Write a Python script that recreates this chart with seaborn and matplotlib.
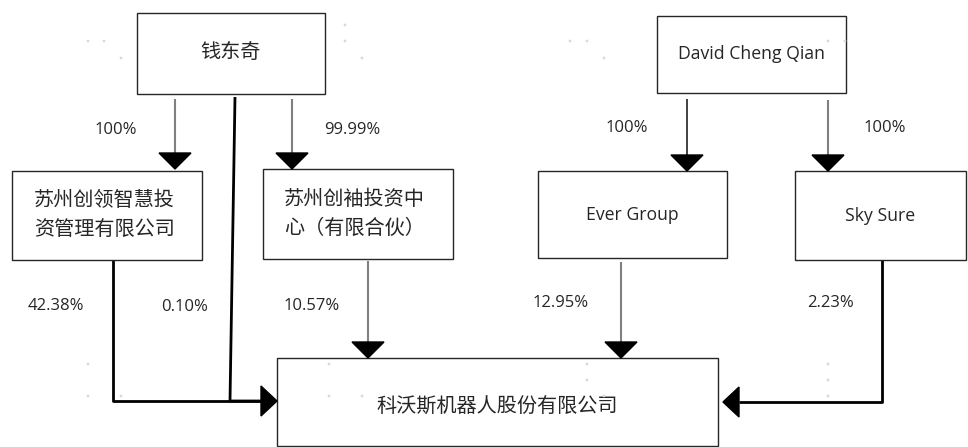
import numpy as np
import pandas as pd
import matplotlib
matplotlib.use("Agg")
import matplotlib.pyplot as plt
import seaborn as sns
from matplotlib.patches import Rectangle, Polygon

# ---- data ----
entities = ["钱东奇", "David Cheng Qian", "苏州创领智慧投\n资管理有限公司", "苏州创袖投资中\n心（有限合伙）",
            "Ever Group", "Sky Sure", "科沃斯机器人股份有限公司"]
owners = ["钱东奇", "钱东奇", "David Cheng Qian", "David Cheng Qian",
          "苏州创领智慧投\n资管理有限公司", "钱东奇", "苏州创袖投资中\n心（有限合伙）", "Ever Group", "Sky Sure"]
owned = ["苏州创领智慧投\n资管理有限公司", "苏州创袖投资中\n心（有限合伙）", "Ever Group", "Sky Sure",
         "科沃斯机器人股份有限公司", "科沃斯机器人股份有限公司", "科沃斯机器人股份有限公司",
         "科沃斯机器人股份有限公司", "科沃斯机器人股份有限公司"]
stakes = ["100%", "99.99%", "100%", "100%", "42.38%", "0.10%", "10.57%", "12.95%", "2.23%"]

# ---- layout (pixel coords, y down) ----
boxes = {  # x0, y0, x1, y1
    entities[0]: (137, 13, 325, 94),
    entities[1]: (657, 16, 846, 93),
    entities[2]: (12, 171, 202, 260),
    entities[3]: (263, 169, 453, 259),
    entities[4]: (538, 171, 727, 258),
    entities[5]: (795, 171, 966, 260),
    entities[6]: (277, 358, 718, 446),
}
left_text = {entities[2]: 34, entities[3]: 284}
text_y = {entities[0]: 53, entities[1]: 54, entities[2]: 215, entities[3]: 214,
          entities[4]: 215, entities[5]: 216, entities[6]: 407}

# connector paths (points), style, arrow direction
paths = [
    ([(175, 99), (175, 153)], "gray", "down", (175, 169)),
    ([(292, 99), (292, 153)], "gray", "down", (292, 169)),
    ([(687, 99), (687, 155)], "dark", "down", (687, 171)),
    ([(828, 100), (828, 155)], "gray", "down", (828, 171)),
    ([(113, 260), (113, 401), (261, 401)], "black", "right", (277, 401)),
    ([(235, 97), (230, 401), (261, 401)], "black", None, None),
    ([(368, 261), (368, 342)], "gray", "down", (368, 358)),
    ([(621, 262), (621, 342)], "gray", "down", (621, 358)),
    ([(882, 260), (882, 402), (739, 402)], "black", "left", (723, 402)),
]
label_pos = [(116, 130), (352, 130), (627, 128), (885, 128),
             (56, 306), (185, 307), (312, 306), (561, 303), (830, 303)]

# faint grid dots left over in the source picture
dots_x = [88, 104, 121, 345, 345, 362, 570, 587, 604, 828, 845,
          88, 88, 121, 329, 329, 362, 587, 587, 604, 828, 828, 828]
dots_y = [41, 41, 58, 25, 41, 58, 41, 41, 58, 41, 41,
          364, 396, 396, 364, 396, 396, 364, 380, 396, 364, 380, 396]

sns.set_theme(style="white")
plt.rcParams['font.family'] = ['Noto Sans CJK SC', 'DejaVu Sans']

fig = plt.figure(figsize=(9.68, 4.47), dpi=100)
ax = fig.add_axes([0, 0, 1, 1])
ax.set_xlim(0, 968)
ax.set_ylim(447, 0)
ax.axis("off")

colors = {"gray": ("#808080", 1.5), "dark": ("#404040", 1.4), "black": ("#000000", 2.0)}
for pts, style, direction, tip in paths:
    c, lw = colors[style]
    xs, ys = zip(*pts)
    ax.plot(xs, ys, color=c, lw=lw, solid_capstyle="butt", zorder=2)
    if direction == "down":
        tx, ty = tip
        ax.add_patch(Polygon([(tx - 16, ty - 16), (tx + 16, ty - 16), (tx, ty)], closed=True,
                             color="black", zorder=3))
    elif direction == "right":
        tx, ty = tip
        ax.add_patch(Polygon([(tx - 16, ty - 15), (tx - 16, ty + 15), (tx, ty)], closed=True,
                             color="black", zorder=3))
    elif direction == "left":
        tx, ty = tip
        ax.add_patch(Polygon([(tx + 16, ty - 15), (tx + 16, ty + 15), (tx, ty)], closed=True,
                             color="black", zorder=3))

for name in entities:
    x0, y0, x1, y1 = boxes[name]
    ax.add_patch(Rectangle((x0, y0), x1 - x0, y1 - y0, facecolor="white",
                           edgecolor="#262626", lw=1.0, zorder=2))
    if name in left_text:
        ax.text(left_text[name], text_y[name], name, ha="left", va="center",
                fontsize=14.5, linespacing=1.45, color="#262626", zorder=4)
    elif name.isascii():
        ax.text((x0 + x1) / 2, text_y[name], name, ha="center", va="center",
                fontsize=12.7, color="#262626", family=["Open Sans", "DejaVu Sans"], zorder=4)
    else:
        ax.text((x0 + x1) / 2, text_y[name], name, ha="center", va="center",
                fontsize=14.5, color="#262626", zorder=4)

for s, (x, y) in zip(stakes, label_pos):
    ax.text(x, y, s, ha="center", va="center", fontsize=12, color="#262626",
            family=["Open Sans", "DejaVu Sans"], zorder=4)

sns.scatterplot(x=dots_x, y=dots_y, ax=ax, s=4, color="#d9d9d9", edgecolor="none", zorder=5)

fig.savefig("out.png", dpi=100, facecolor="white")
